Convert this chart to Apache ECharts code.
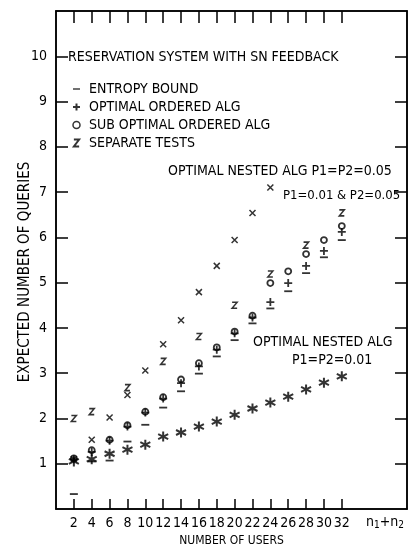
<!DOCTYPE html>
<html><head><meta charset="utf-8">
<script src="https://cdn.jsdelivr.net/npm/echarts@6/dist/echarts.min.js"></script>
<style>html,body{margin:0;padding:0;background:#fff}#c{width:408px;height:555px}</style>
</head><body><div id="c"></div>
<script>
var users = [2,4,6,8,10,12,14,16,18,20,22,24,26,28,30,32];
var xTicks = [2,4,6,8,10,12,14,16,18,20,22,24,26,28,30,32];
var yTicks = [1,2,3,4,5,6,7,8,9,10];
var entropyBound = [0.33,1.05,1.07,1.49,1.86,2.24,2.60,2.99,3.37,3.73,4.10,4.43,4.81,5.21,5.56,5.94];
var optimalOrdered = [1.10,1.26,1.51,1.82,2.13,2.44,2.78,3.15,3.52,3.88,4.23,4.57,4.99,5.37,5.70,6.12];
var subOptimalOrdered = [1.12,1.30,1.53,1.85,2.15,2.47,2.86,3.22,3.57,3.92,4.27,4.99,5.25,5.63,5.94,6.25];
var separateTests = [2.00,2.15,null,2.68,null,3.26,null,3.81,null,4.50,null,5.19,null,5.83,null,6.54];
var nested005 = [1.10,1.53,2.02,2.52,3.06,3.64,4.17,4.79,5.37,5.94,6.54,7.10,null,null,null,null];
var nested001 = [1.05,1.10,1.22,1.31,1.42,1.60,1.69,1.82,1.93,2.08,2.22,2.35,2.48,2.64,2.79,2.93];

var FONT = "'Liberation Sans Narrow','DejaVu Sans Condensed','Liberation Sans',sans-serif";
function pairs(v){ return users.map(function(u,i){ return v[i]==null ? null : [u, v[i]]; }).filter(Boolean); }
var axisCommon = {color:'#000', width:1.5};
var SYM_PLUS = 'path://M4,0 L4,8 M0,4 L8,4';
var SYM_DASH = 'path://M0,0 L8,0 L8,1.6 L0,1.6 Z';
var SYM_Z = 'path://M0,0 L6,0 L0,8 L6,8';
var SYM_X = 'path://M0,0 L8,8 M8,0 L0,8';
var SYM_STAR = 'path://M5,0 L5,10 M0.7,2.5 L9.3,7.5 M0.7,7.5 L9.3,2.5';
var ink = function(w){ return {color:'transparent', borderColor:'#000', borderWidth:w}; };

var chart = echarts.init(document.getElementById('c'));
chart.setOption({
  animation:false,
  backgroundColor:'#fff',
  textStyle:{fontFamily:FONT, color:'#000'},
  grid:{left:56, right:1, top:11, bottom:46, show:true, borderColor:'#000', borderWidth:1.5, backgroundColor:'transparent'},
  xAxis:[{
    type:'value', min:0, max:39.3, position:'bottom',
    name:'NUMBER OF USERS', nameLocation:'middle', nameGap:20,
    nameTextStyle:{fontFamily:FONT, fontSize:12, color:'#000'},
    axisLine:{show:true, onZero:false, lineStyle:axisCommon},
    axisTick:{show:true, inside:true, length:10, customValues:xTicks, lineStyle:axisCommon},
    axisLabel:{show:true, customValues:xTicks, margin:7, fontFamily:FONT, fontSize:14, color:'#000'},
    splitLine:{show:false}
  },{
    type:'value', min:0, max:39.3, position:'top',
    axisLine:{show:true, onZero:false, lineStyle:axisCommon},
    axisTick:{show:true, inside:true, length:12, customValues:xTicks, lineStyle:axisCommon},
    axisLabel:{show:false}, splitLine:{show:false}
  }],
  yAxis:[{
    type:'value', min:0, max:11, position:'left',
    axisLine:{show:true, onZero:false, lineStyle:axisCommon},
    axisTick:{show:true, inside:true, length:12, customValues:yTicks, lineStyle:axisCommon},
    axisLabel:{show:true, customValues:yTicks, margin:9, fontFamily:FONT, fontSize:14, color:'#000'},
    splitLine:{show:false}
  },{
    type:'value', min:0, max:11, position:'right',
    axisLine:{show:true, onZero:false, lineStyle:axisCommon},
    axisTick:{show:true, inside:true, length:12, customValues:yTicks, lineStyle:axisCommon},
    axisLabel:{show:false}, splitLine:{show:false}
  }],
  legend:{
    left:67, top:77, orient:'vertical', itemGap:4, itemWidth:7, itemHeight:7,
    textStyle:{fontFamily:FONT, fontSize:14, color:'#000', padding:[0,0,0,4]},
    data:[
      {name:'ENTROPY BOUND', icon:SYM_DASH},
      {name:'OPTIMAL ORDERED ALG', icon:SYM_PLUS},
      {name:'SUB OPTIMAL ORDERED ALG', icon:'circle', itemStyle:ink(1.5)},
      {name:'SEPARATE TESTS', icon:SYM_Z}
    ]
  },
  series:[
    {type:'scatter', xAxisIndex:1, yAxisIndex:1, data:[], silent:true},
    {name:'ENTROPY BOUND', type:'scatter', data:pairs(entropyBound), symbol:'rect', symbolSize:[8,1.8], itemStyle:{color:'#000'}},
    {name:'OPTIMAL ORDERED ALG', type:'scatter', data:pairs(optimalOrdered), symbol:SYM_PLUS, symbolSize:8, itemStyle:ink(1.8)},
    {name:'SUB OPTIMAL ORDERED ALG', type:'scatter', data:pairs(subOptimalOrdered), symbol:'circle', symbolSize:6, itemStyle:ink(1.8)},
    {name:'SEPARATE TESTS', type:'scatter', data:pairs(separateTests), symbol:SYM_Z, symbolSize:[5,6], itemStyle:ink(1.5)},
    {name:'NESTED 0.05', type:'scatter', data:pairs(nested005), symbol:SYM_X, symbolSize:6, itemStyle:ink(1.5)},
    {name:'NESTED 0.01', type:'scatter', data:pairs(nested001), symbol:SYM_STAR, symbolSize:10, itemStyle:ink(2)}
  ],
  graphic:[
    {type:'text', left:68, top:50, style:{text:'RESERVATION SYSTEM WITH SN FEEDBACK', font:'14px '+FONT, fill:'#000'}},
    {type:'text', left:168, top:164, style:{text:'OPTIMAL NESTED ALG P1=P2=0.05', font:'14px '+FONT, fill:'#000'}},
    {type:'text', left:283, top:189, style:{text:'P1=0.01 & P2=0.05', font:'13px '+FONT, fill:'#000'}},
    {type:'text', left:253, top:335, style:{text:'OPTIMAL NESTED ALG', font:'14px '+FONT, fill:'#000'}},
    {type:'text', left:292, top:353, style:{text:'P1=P2=0.01', font:'14px '+FONT, fill:'#000'}},
    {type:'text', x:25, y:272, rotation:Math.PI/2, style:{text:'EXPECTED NUMBER OF QUERIES', font:'15px '+FONT, fill:'#000', align:'center', verticalAlign:'middle'}},
    {type:'text', left:366, top:515, style:{text:'{a|n}{s|1}{a|+n}{s|2}', rich:{a:{fontFamily:FONT, fontSize:14, fill:'#000'}, s:{fontFamily:FONT, fontSize:10, fill:'#000', padding:[6,0,0,0]}}}}
  ]
});
</script></body></html>
